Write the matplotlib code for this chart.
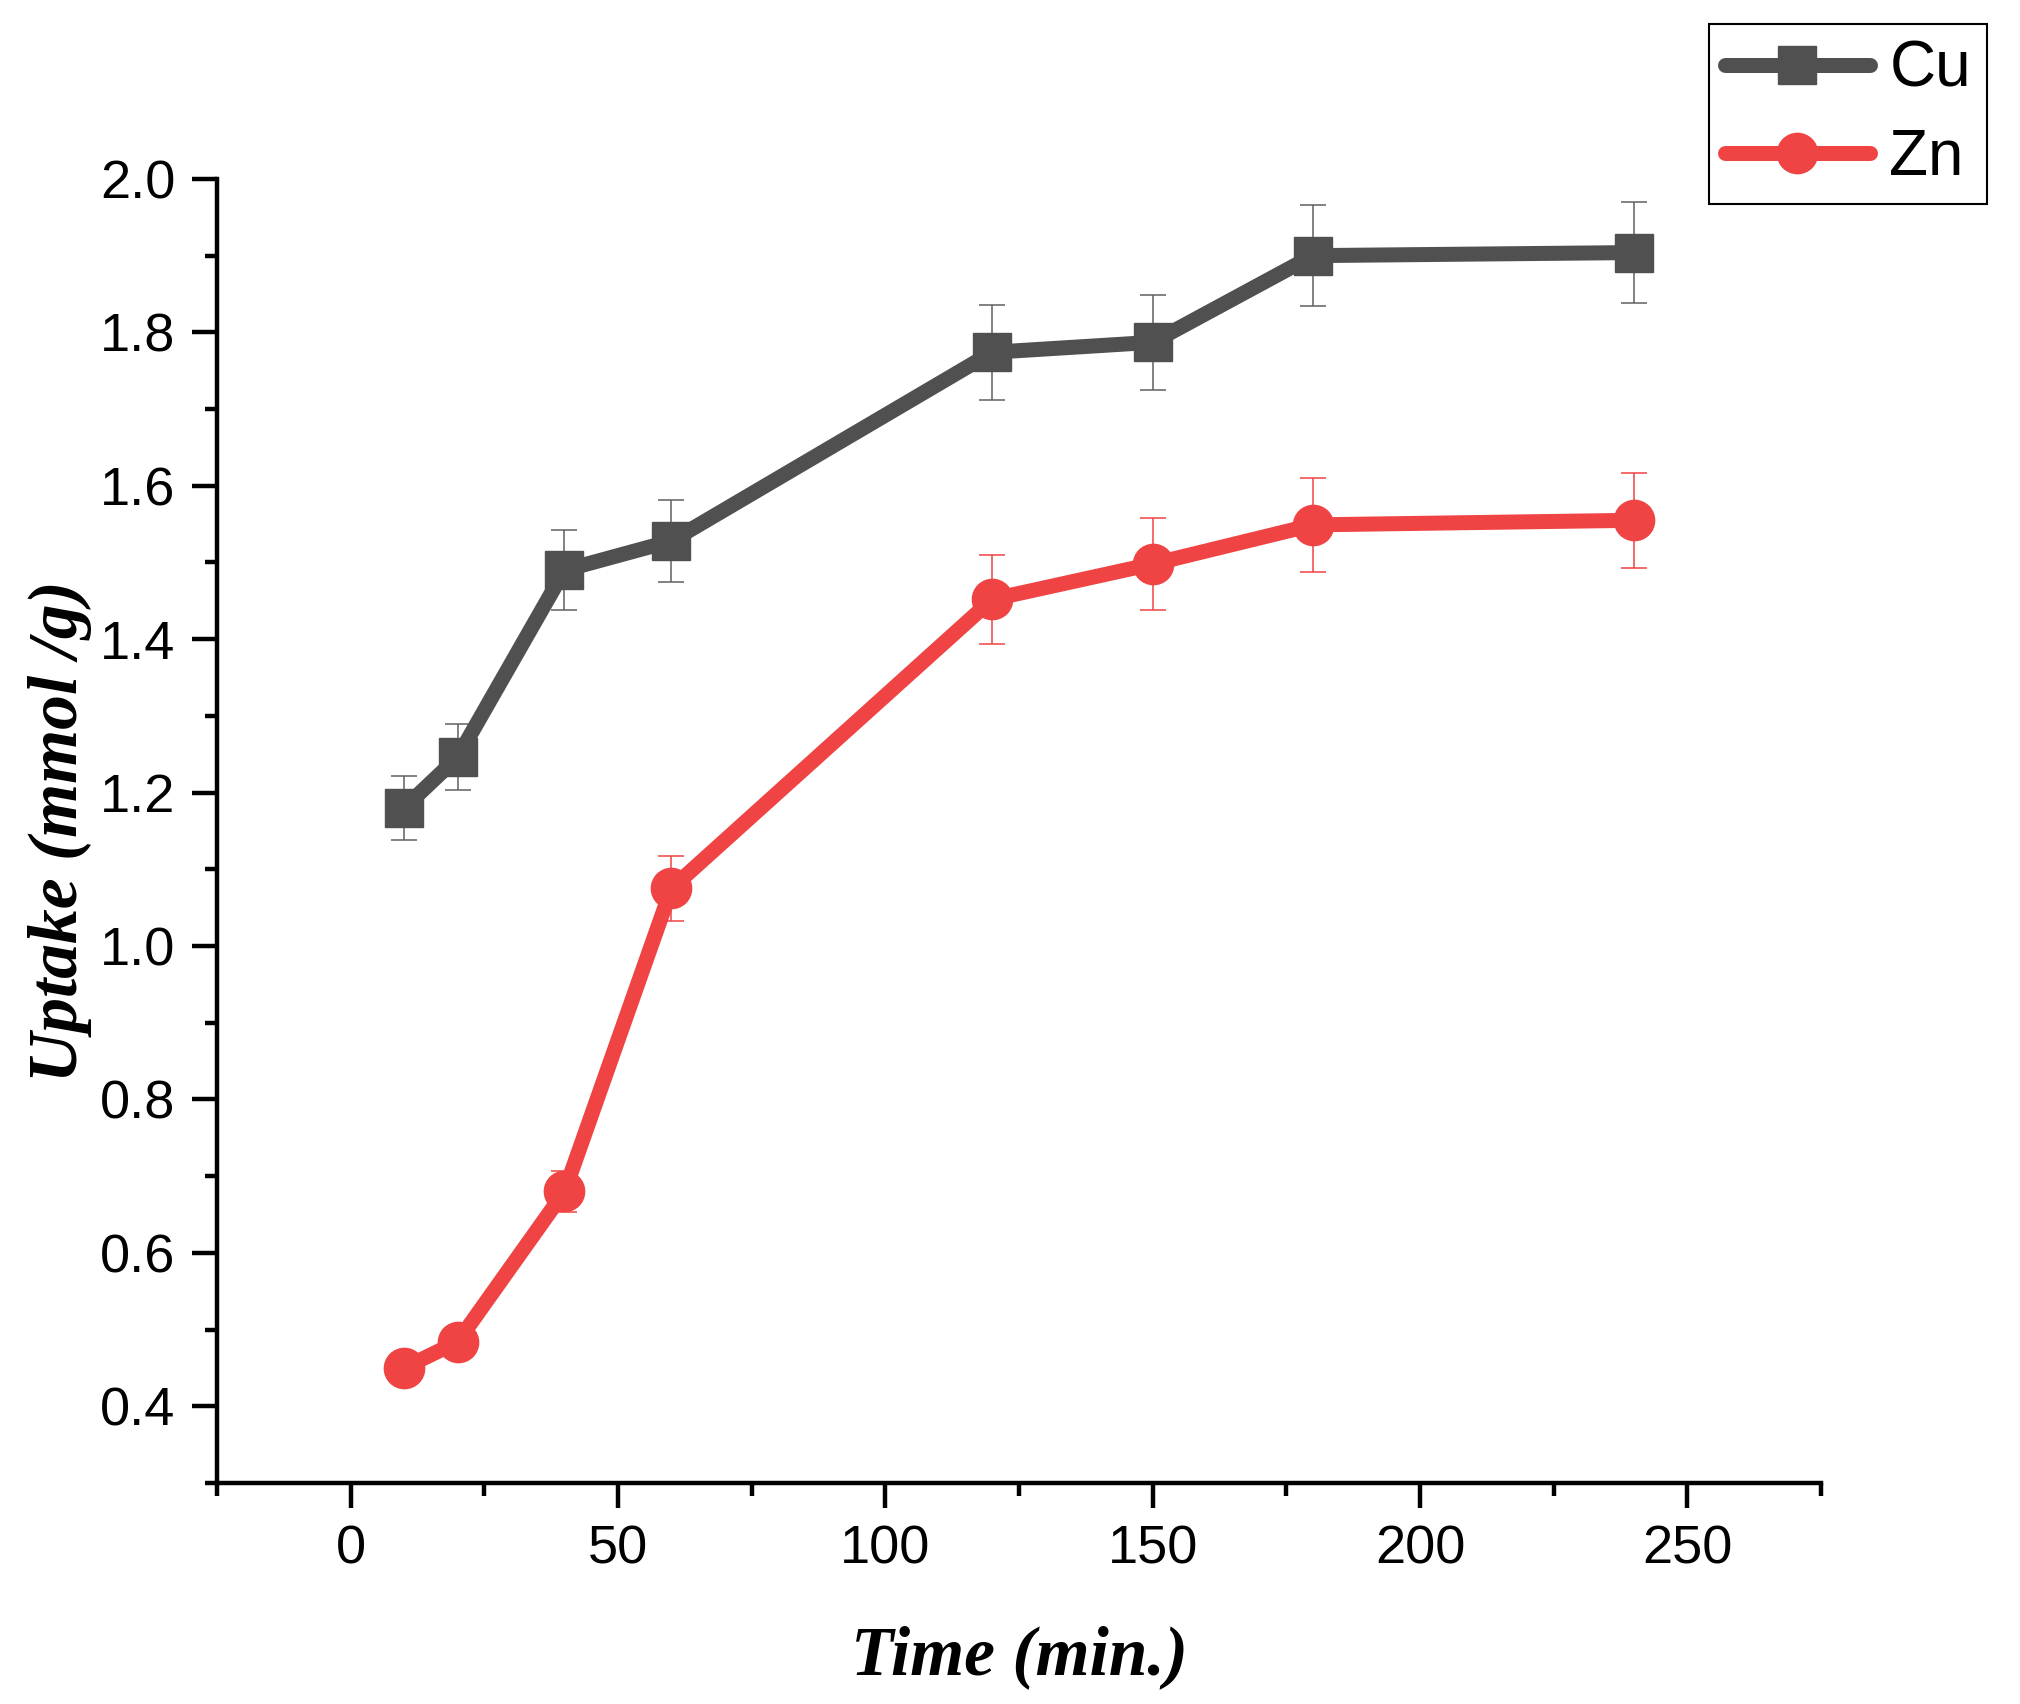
import matplotlib.pyplot as plt
from matplotlib.ticker import MultipleLocator

# data
time_min = [10, 20, 40, 60, 120, 150, 180, 240]

cu_uptake = [1.180, 1.246, 1.490, 1.528, 1.774, 1.787, 1.900, 1.904]
cu_err = [0.042, 0.043, 0.052, 0.053, 0.062, 0.062, 0.066, 0.066]

zn_uptake = [0.450, 0.484, 0.680, 1.075, 1.452, 1.498, 1.549, 1.555]
zn_err = [0.015, 0.018, 0.027, 0.043, 0.058, 0.060, 0.061, 0.062]

CU_COLOR = "#505050"
ZN_COLOR = "#F04343"

plt.rcParams["font.family"] = ["Liberation Sans", "DejaVu Sans"]

fig = plt.figure(figsize=(20.2, 17.04), dpi=100)
ax = fig.add_axes([0.1074, 0.1297, 0.9015 - 0.1074, 0.895 - 0.1297])

# error bars first, markers/lines on top
ax.errorbar(time_min, cu_uptake, yerr=cu_err, fmt="none", ecolor="#606060",
            elinewidth=1.1, capsize=9.4, capthick=1.1, zorder=2)
ax.errorbar(time_min, zn_uptake, yerr=zn_err, fmt="none", ecolor=ZN_COLOR,
            elinewidth=1.1, capsize=9.4, capthick=1.1, zorder=2)

ax.plot(time_min, cu_uptake, color=CU_COLOR, lw=10.8, marker="s", ms=27.5,
        solid_capstyle="round", label="Cu", zorder=3)
ax.plot(time_min, zn_uptake, color=ZN_COLOR, lw=10.8, marker="o", ms=29,
        solid_capstyle="round", label="Zn", zorder=3)

ax.set_xlim(-25, 275)
ax.set_ylim(0.3, 2.0)
ax.xaxis.set_major_locator(MultipleLocator(50))
ax.xaxis.set_minor_locator(MultipleLocator(25))
ax.yaxis.set_minor_locator(MultipleLocator(0.1))
ax.set_yticks([0.4, 0.6, 0.8, 1.0, 1.2, 1.4, 1.6, 1.8, 2.0])
ax.yaxis.set_major_formatter(plt.FuncFormatter(lambda v, p: f"{v:.1f}"))

for side in ["top", "right"]:
    ax.spines[side].set_visible(False)
for side in ["left", "bottom"]:
    ax.spines[side].set_linewidth(3.2)

ax.tick_params(axis="both", which="major", direction="out", length=18,
               width=3.2, labelsize=39)
ax.tick_params(axis="both", which="minor", direction="out", length=9,
               width=3.2)
ax.tick_params(axis="y", which="major", pad=12)
ax.tick_params(axis="x", which="major", pad=12)

label_font = dict(family="Liberation Serif", weight="bold", style="italic",
                  size=50)
ax.set_xlabel("Time (min.)", labelpad=36, **label_font)
ax.set_ylabel("Uptake (mmol /g)", labelpad=6, **label_font)

leg = ax.legend(loc="upper right", bbox_to_anchor=(1987 / 2020, 1 - 24 / 1704),
                bbox_transform=fig.transFigure, fontsize=46, frameon=True,
                fancybox=False, framealpha=1, edgecolor="black",
                borderpad=0.25, handlelength=2.28, handletextpad=0.3,
                labelspacing=0.44, borderaxespad=0)
leg.get_frame().set_linewidth(1.5)

fig.savefig("out.png", dpi=100)
